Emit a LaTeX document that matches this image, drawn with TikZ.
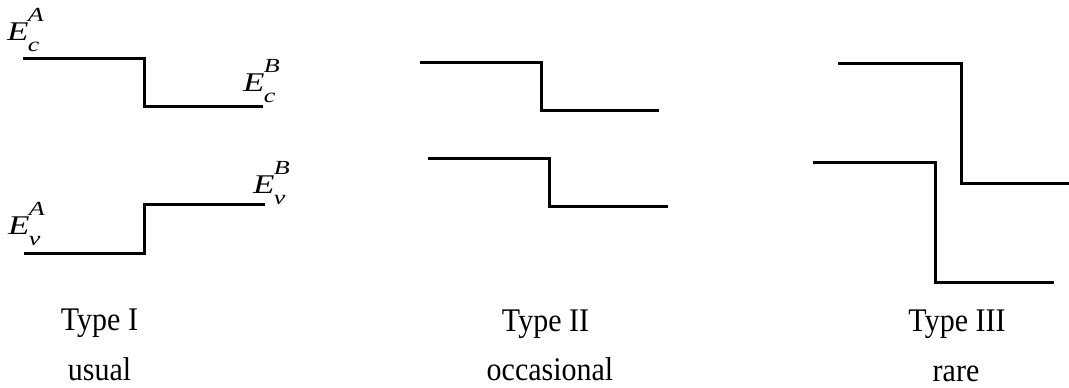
\documentclass[tikz,border=0pt]{standalone}
\usepackage{fontspec}
\setmainfont{Liberation Serif}
\newcommand{\scr}[1]{\fontsize{20}{20}\selectfont\itshape #1}
\newcommand{\lvlab}[2]{\scalebox{1.3}[1]{\fontsize{27}{27}\selectfont\itshape E\kern-0.5pt\rlap{\raisebox{19pt}{\scr{#2}}}\raisebox{-11pt}{\scr{#1}}}}
\begin{document}
\begin{tikzpicture}[x=1pt,y=1pt,
  band/.style={line width=3pt,line join=miter},
  lab/.style={inner sep=0pt,anchor=base west},
  captxt/.style={inner sep=0pt,anchor=base,font=\fontsize{30}{30}\selectfont}]
\useasboundingbox (0,0) rectangle (1069,388);
% Type I
\draw[band] (23,329) -- (144,329) -- (144,281) -- (263,281);
\draw[band] (24,134) -- (144,134) -- (144,183) -- (265,183);
\node[lab] (ecA) at (7,347.5) {\lvlab{c}{A}};
\node[lab] (ecB) at (243,296) {\lvlab{c}{B}};
\node[lab] (evB) at (253,194.5) {\lvlab{v}{B}};
\node[lab] (evA) at (8,153) {\lvlab{v}{A}};
% Type II
\draw[band] (420,325.3) -- (541.5,325.3) -- (541.5,277) -- (659,277);
\draw[band] (428,229) -- (549,229) -- (549,181) -- (668,181);
% Type III
\draw[band] (838,324.7) -- (961,324.7) -- (961,204) -- (1069,204);
\draw[band] (813,225) -- (935,225) -- (935,105) -- (1054,105);
% captions
\node[captxt] (t1) at (99.5,57) {\scalebox{1}[1.1]{Type I}};
\node[captxt] (u1) at (99.5,7) {\scalebox{1}[1.1]{usual}};
\node[captxt] (t2) at (545.5,56.5) {\scalebox{1}[1.1]{Type II}};
\node[captxt] (u2) at (550,7) {\scalebox{1}[1.1]{occasional}};
\node[captxt] (t3) at (957,56) {\scalebox{1}[1.1]{Type III}};
\node[captxt] (u3) at (956,6.5) {\scalebox{1}[1.1]{rare}};
\end{tikzpicture}
\end{document}
